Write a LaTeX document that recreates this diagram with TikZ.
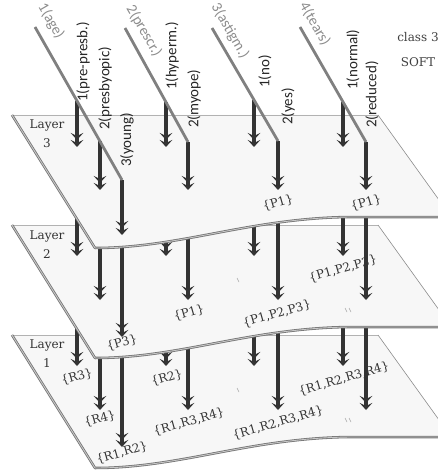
\documentclass[tikz,border=0pt]{standalone}
\usepackage{fontspec}
\newfontfamily\attrfont{Carlito}
\newfontfamily\notefont{DejaVu Serif}
\usetikzlibrary{arrows.meta}

% one sheet of the stack, shifted down by #1
\newcommand\layersheet[1]{%
  \begin{scope}[shift={(0,#1)}]
    \fill[sheetfill] (12,115) -- (378,115) -- (452,218) -- (350,217)
      .. controls (250,218) and (180,248) .. (95,248) -- cycle;
    \draw[topedge] (12,115) -- (378,115);
    \draw[sideedge] (378,115) -- (452,218);
    \draw[rim] (12,115) -- (95,248) .. controls (180,248) and (250,218) .. (350,217) -- (470,217);
  \end{scope}}

\begin{document}
\begin{tikzpicture}[x=1pt,y=-1pt,
  sheetfill/.style={fill=black!3},
  topedge/.style={draw=black!30, line width=0.8pt},
  sideedge/.style={draw=black!45, line width=0.6pt},
  rim/.style={draw=black!55, double=black!22, double distance=0.9pt, line width=0.8pt, line join=round},
  flow/.style={draw=black!80, line width=3.4pt,
    -{Stealth[length=7pt,width=12.5pt,inset=3pt]Stealth[length=7pt,width=12.5pt,inset=3pt]}},
  attr/.style={draw=black!50, line width=2.8pt},
  attrname/.style={font=\attrfont\fontsize{15}{15}\selectfont, text=black!45, rotate=-60, inner sep=0pt},
  branch/.style={font=\attrfont\fontsize{15}{15}\selectfont, text=black!85, rotate=90, anchor=west, inner sep=0pt},
  rule/.style={font=\notefont\fontsize{12}{14}\selectfont, text=black!80, rotate=16, inner sep=0pt},
  layername/.style={font=\notefont\fontsize{12}{19}\selectfont, text=black!80, align=center, inner sep=0pt},
  cls/.style={font=\notefont\fontsize{12}{14}\selectfont, text=black!75, inner sep=0pt},
  speck/.style={draw=black!35, line width=0.5pt}
]
\useasboundingbox (0,0) rectangle (438,476);

% columns: branch point, then arrow tips in layers 3, 2, 1
\foreach \n/\x/\a/\b/\c/\d in {c1/77/101/147/256/366, c2/100/141/190/300/410,
    c3/122/180/235/337/447, c4/166/102/147/256/366, c5/188/142/190/300/410,
    c6/254/100/147/256/366, c7/278/141/190/300/410, c8/343/102/147/256/366,
    c9/366/142/190/300/410}{
  \coordinate (\n-0) at (\x,\a);
  \coordinate (\n-3) at (\x,\b);
  \coordinate (\n-2) at (\x,\c);
  \coordinate (\n-1) at (\x,\d);
}

% ---------- layer 1 ----------
\layersheet{220}
\foreach \n in {c1,c2,c3,c4,c5,c6,c7,c8,c9}
  \draw[flow] (\n-2) -- (\n-1);
\node[layername] (l1) at (47,354) {Layer\\1};
\node[rule] (r1) at (77,377) {\{R3\}};
\node[rule] (r2) at (100,419) {\{R4\}};
\node[rule] (r3) at (122,453) {\{R1,R2\}};
\node[rule] (r4) at (167,378) {\{R2\}};
\node[rule] (r5) at (189,422) {\{R1,R3,R4\}};
\node[rule] (r6) at (278,423) {\{R1,R2,R3,R4\}};
\node[rule] (r7) at (344,379) {\{R1,R2,R3,R4\}};
\draw[speck] (237,388) -- (239,392);
\draw[speck] (345,418) -- (347,422) (349,418) -- (351,422);

% ---------- layer 2 ----------
\layersheet{110}
\foreach \n in {c1,c2,c3,c4,c5,c6,c7,c8,c9}
  \draw[flow] (\n-3) -- (\n-2);
\node[layername] (l2) at (47,245) {Layer\\2};
\node[rule] (p1) at (122,343) {\{P3\}};
\node[rule] (p2) at (189,313) {\{P1\}};
\node[rule] (p3) at (277,314) {\{P1,P2,P3\}};
\node[rule] (p4) at (343,269) {\{P1,P2,P3\}};
\draw[speck] (237,278) -- (239,282);
\draw[speck] (345,308) -- (347,312) (349,308) -- (351,312);

% ---------- layer 3 ----------
\layersheet{0}
\foreach \n in {c1,c2,c3,c4,c5,c6,c7,c8,c9}
  \draw[flow] (\n-0) -- (\n-3);
\node[layername] (l3) at (47,134) {Layer\\3};
\node[rule] (q1) at (278,203) {\{P1\}};
\node[rule] (q2) at (366,203) {\{P1\}};

% ---------- attributes and their values ----------
\coordinate (age-s) at (35,27);     \coordinate (age-e) at (122,180);
\coordinate (pre-s) at (125,28);    \coordinate (pre-e) at (188,142);
\coordinate (ast-s) at (212,28);    \coordinate (ast-e) at (278,141);
\coordinate (tea-s) at (300,27);    \coordinate (tea-e) at (366,142);
\draw[attr] (age-s) -- (age-e);
\draw[attr] (pre-s) -- (pre-e);
\draw[attr] (ast-s) -- (ast-e);
\draw[attr] (tea-s) -- (tea-e);

\node[attrname] (a1) at (51,21) {1(age)};
\node[attrname] (a2) at (144,31) {2(prescr.)};
\node[attrname] (a3) at (230,31) {3(astigm.)};
\node[attrname] (a4) at (315,24) {4(tears)};

\node[branch] (v11) at (83,102) {1(pre-presb.)};
\node[branch] (v12) at (105,130) {2(presbyopic)};
\node[branch] (v13) at (127,167) {3(young)};
\node[branch] (v21) at (172,90) {1(hyperm.)};
\node[branch] (v22) at (194,128) {2(myope)};
\node[branch] (v31) at (265,88) {1(no)};
\node[branch] (v32) at (288,125) {2(yes)};
\node[branch] (v41) at (353,90) {1(normal)};
\node[branch] (v42) at (372,128) {2(reduced)};

\node[cls] (cl) at (418,37) {class 3};
\node[cls] (sf) at (418,62) {SOFT};
\end{tikzpicture}
\end{document}
